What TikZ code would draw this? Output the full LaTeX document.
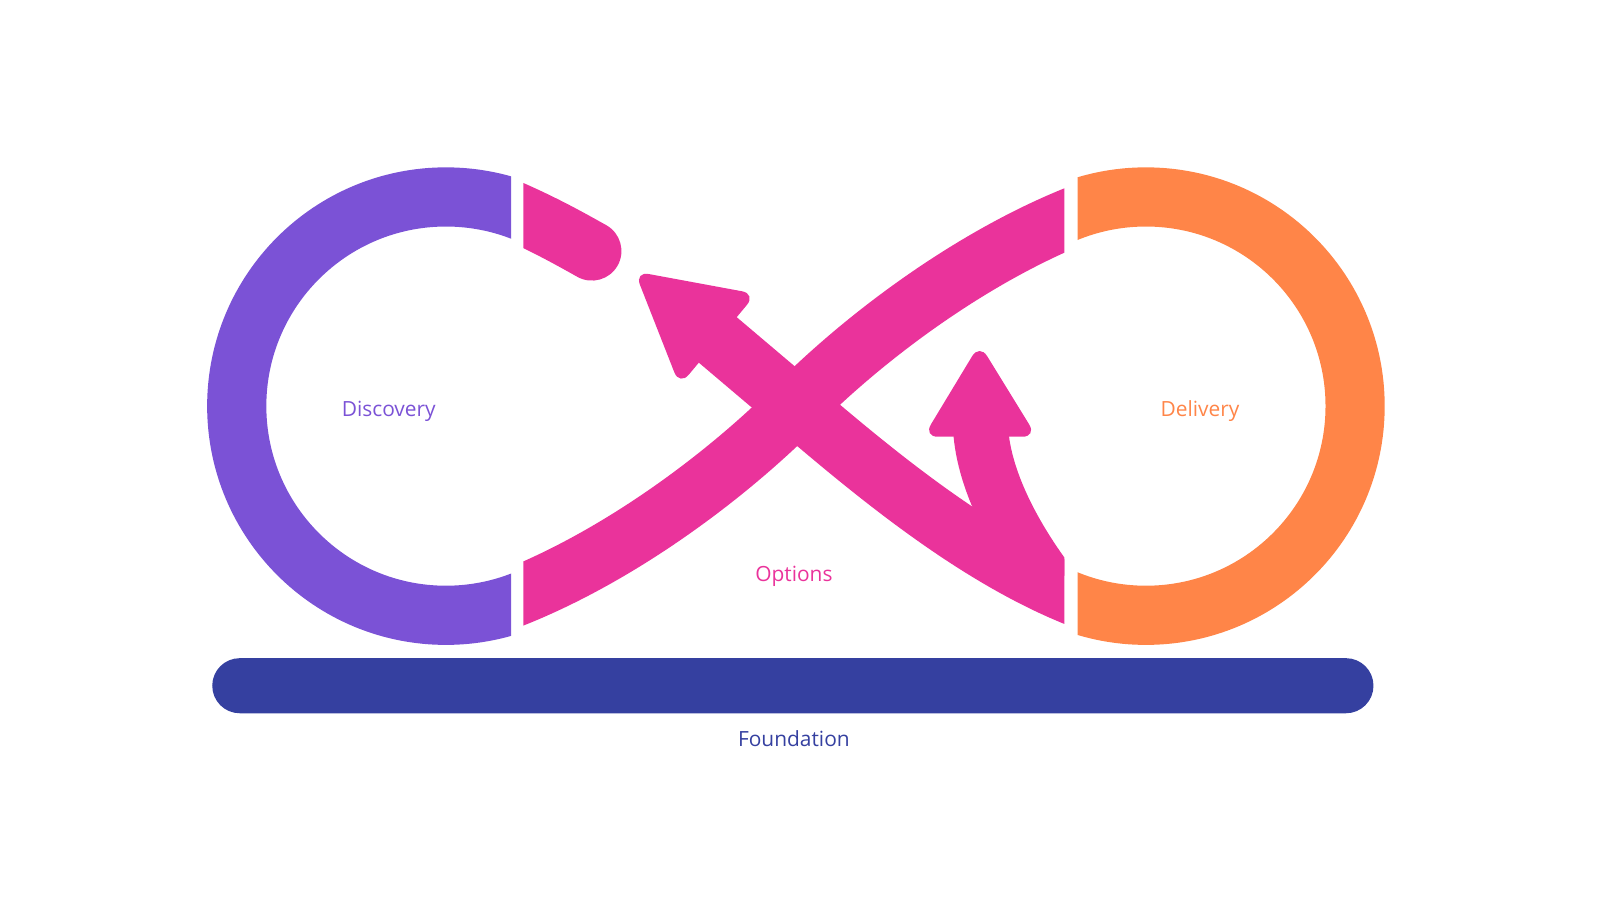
\documentclass[tikz,border=0pt]{standalone}
\usepackage{fontspec}
\setmainfont{Open Sans}
\definecolor{discpurple}{HTML}{7B52D6}
\definecolor{optpink}{HTML}{EA339B}
\definecolor{delorange}{HTML}{FF8548}
\definecolor{foundblue}{HTML}{3540A0}
\tikzset{band/.style={line width=58pt},
  head/.style={fill=optpink, rounded corners=14pt},
  lbl/.style={anchor=base, font=\fontsize{20.5}{24}\selectfont}}

\begin{document}
\begin{tikzpicture}[x=1pt, y=1pt]
\useasboundingbox (0,0) rectangle (1568,-882);
\coordinate (L) at (437,-398);
\coordinate (R) at (1123,-398);
\coordinate (X) at (780,-398);
\begin{scope}
  \clip (0,0) rectangle (501,-882);
  \draw[band, discpurple] (L) circle[radius=205];
\end{scope}
\begin{scope}
  \clip (1056,0) rectangle (1568,-882);
  \draw[band, delorange] (R) circle[radius=205];
\end{scope}
\begin{scope}
  \clip (513,0) rectangle (1043,-882);
  \draw[band, optpink, line cap=round] (490,-201) .. controls (530,-218) and (555,-232) .. (580,-246);
  \draw[band, optpink] (485,-593) -- (505,-585) .. controls (607,-544) and (709,-469) .. (X)
    .. controls (851,-327) and (953,-252) .. (1055,-211) -- (1075,-203);
  \draw[band, optpink] (1075,-593) -- (1055,-585) .. controls (953,-544) and (855,-462) .. (X) -- (695,-326);
  \fill[head] (622,-266) -- (741,-288) -- (666,-378) -- cycle;
  \draw[band, optpink, line width=54pt] (1030,-574) .. controls (1000,-535) and (964,-475) .. (961,-420);
  \fill[head] (960,-337) -- (1016,-428) -- (905,-428) -- cycle;
\end{scope}
\node[fill=foundblue, rounded corners=27pt, minimum width=1138pt, minimum height=54pt, inner sep=0pt] (base) at (777,-672) {};
\node[lbl, text=discpurple] (disc) at (381,-408) {Discovery};
\node[lbl, text=delorange] (deliv) at (1176,-408) {Delivery};
\node[lbl, text=optpink] (opt) at (778,-570) {Options};
\node[lbl, text=foundblue] (found) at (778,-732) {Foundation};
\end{tikzpicture}
\end{document}
